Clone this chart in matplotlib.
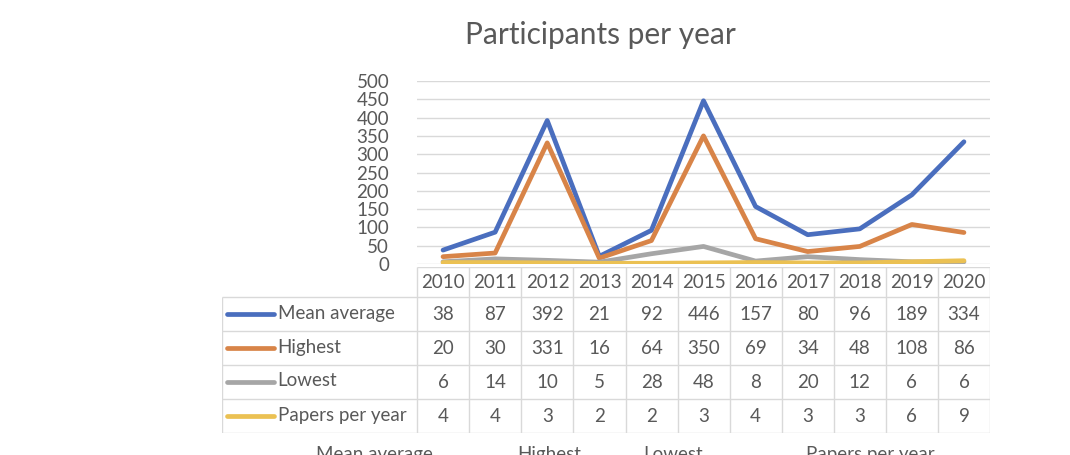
import matplotlib
matplotlib.use("Agg")
import matplotlib.pyplot as plt
import numpy as np

years = ["2010", "2011", "2012", "2013", "2014", "2015",
         "2016", "2017", "2018", "2019", "2020"]
series_names = ["Mean average", "Highest", "Lowest", "Papers per year"]
mean_average = [38, 87, 392, 21, 92, 446, 157, 80, 96, 189, 334]
highest = [20, 30, 331, 16, 64, 350, 69, 34, 48, 108, 86]
lowest = [6, 14, 10, 5, 28, 48, 8, 20, 12, 6, 6]
papers_per_year = [4, 4, 3, 2, 2, 3, 4, 3, 3, 6, 9]
y_ticks = list(range(0, 501, 50))

series = [mean_average, highest, lowest, papers_per_year]
colors = ["#4A6EBE", "#D88448", "#A6A6A6", "#EBC153"]
text_color = "#595959"
grid_color = "#D9D9D9"
font = "Lato"

W, H = 1070, 455
fig = plt.figure(figsize=(W / 100, H / 100), dpi=100)


def px_axes(left, top, right, bottom):
    return fig.add_axes([left / W, (H - bottom) / H,
                         (right - left) / W, (bottom - top) / H])


# ---- line chart ----
ax = px_axes(417, 81, 990, 264)
x = np.arange(len(years))
for vals, c in zip(series, colors):
    ax.plot(x, vals, color=c, lw=3.4, solid_joinstyle="round",
            solid_capstyle="round", zorder=3)
ax.set_xlim(-0.5, len(years) - 0.5)
ax.set_ylim(0, 500)
ax.set_yticks(y_ticks)
ax.set_yticklabels([str(v) for v in y_ticks], fontsize=13.5,
                   color=text_color, family=font)
ax.tick_params(axis="y", length=0, pad=20)
ax.set_xticks([])
ax.grid(axis="y", color=grid_color, lw=1)
ax.set_axisbelow(True)
for s in ax.spines.values():
    s.set_visible(False)
ax.patch.set_alpha(0)

fig.text(600 / W, 1 - 35 / H, "Participants per year", ha="center",
         va="center", fontsize=21.5, color=text_color, family=font)

# ---- data table ----
# x in category units (1 unit = one year column), y in pixels from top
tab = px_axes(222, 267, 990, 433)
x_left = -0.5 - 195 / 52
tab.set_xlim(x_left, len(years) - 0.5)
tab.set_ylim(166, 0)
tab.axis("off")

row_edges = [0, 30, 64, 98, 132, 166]
xr = len(years) - 0.5
lk = dict(color=grid_color, lw=1, solid_capstyle="butt")

# header: only year columns get borders
tab.plot([-0.5, xr], [row_edges[0]] * 2, **lk)
for r in row_edges[1:]:
    tab.plot([x_left, xr], [r, r], **lk)
for i in range(len(years) + 1):
    tab.plot([i - 0.5] * 2, [row_edges[0], row_edges[-1]], **lk)
tab.plot([x_left] * 2, [row_edges[1], row_edges[-1]], **lk)

for i, yr in enumerate(years):
    tab.text(i, (row_edges[0] + row_edges[1]) / 2 + 1, yr, ha="center",
             va="center", fontsize=13.5, color=text_color, family=font)

for r, (name, vals, c) in enumerate(zip(series_names, series, colors)):
    yc = (row_edges[r + 1] + row_edges[r + 2]) / 2
    tab.plot([x_left + 0.1, x_left + 1.0], [yc, yc], color=c, lw=3.4,
             solid_capstyle="round")
    tab.text(x_left + 1.07, yc - 1, name, ha="left", va="center",
             fontsize=13.5, color=text_color, family=font)
    for i, v in enumerate(vals):
        tab.text(i, yc, str(v), ha="center", va="center", fontsize=13.5,
                 color=text_color, family=font)

# legend below, cut off by the bottom edge like the source screenshot
for name, xp in zip(series_names, [316, 517, 643, 806]):
    fig.text(xp / W, 1 - 446 / H, name, ha="left", va="top", fontsize=13.5,
             color=text_color, family=font)

fig.savefig("out.png", dpi=100)
